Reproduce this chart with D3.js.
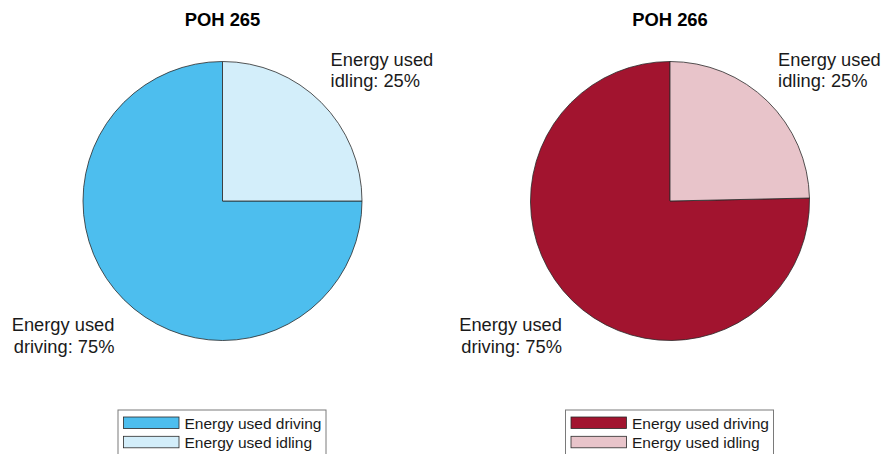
<!DOCTYPE html>
<html>
<head>
<meta charset="utf-8">
<script src="https://cdn.jsdelivr.net/npm/d3@7"></script>
<style>
  html, body { margin: 0; padding: 0; background: #fff; }
  svg { display: block; font-family: "Liberation Sans", Arial, Helvetica, sans-serif; }
</style>
</head>
<body>
<svg id="chart" width="881" height="454"></svg>
<script>
// ---- data ----
const titles = ["POH 265", "POH 266"];
const categories = ["Energy used driving", "Energy used idling"];
const labelNames = ["Energy used\ndriving", "Energy used\nidling"];
const driving = [75.0, 75.34];
const idling = [25.0, 24.66];
const colorsLeft = ["#4DBEEE", "#D3EEFA"];
const colorsRight = ["#A2142F", "#E8C4CA"];

// ---- layout ----
const svg = d3.select("#chart");
const centersX = [222.5, 670];
const cy = 201;
const R = 139.5;
const palettes = [colorsLeft, colorsRight];

titles.forEach((t, i) => {
  const cx = centersX[i];
  const vals = [driving[i], idling[i]];
  const total = d3.sum(vals);
  const color = d3.scaleOrdinal().domain(categories).range(palettes[i]);

  // MATLAB-style pie: start at 12 o'clock and go counter-clockwise
  const angle = d3.scaleLinear().domain([0, total]).range([0, -2 * Math.PI]);
  let acc = 0;
  const slices = vals.map((v, k) => {
    const s = { cat: categories[k], value: v, name: labelNames[k],
                startAngle: angle(acc), endAngle: angle(acc + v) };
    acc += v;
    return s;
  });

  const arc = d3.arc().innerRadius(0).outerRadius(R);
  const g = svg.append("g").attr("transform", `translate(${cx},${cy})`);

  g.selectAll("path").data(slices).join("path")
    .attr("d", arc)
    .attr("fill", d => color(d.cat))
    .attr("stroke", "#2a2a2a")
    .attr("stroke-width", 0.8)
    .attr("stroke-linejoin", "round");

  // title
  svg.append("text")
    .attr("x", cx).attr("y", 26)
    .attr("text-anchor", "middle")
    .attr("font-size", 18.4).attr("font-weight", "bold")
    .attr("fill", "#000")
    .text(t);

  // slice labels
  slices.forEach(d => {
    const mid = (d.startAngle + d.endAngle) / 2;
    const sx = Math.sin(mid), sy = -Math.cos(mid);
    const right = sx > 0;
    const top = sy < 0;
    const x = right ? 0.775 * R : -0.775 * R;
    const y0 = top ? -0.97 * R : 0.935 * R;
    const lines = d.name.split("\n");
    lines[lines.length - 1] += ": " + Math.round(d.value / total * 100) + "%";
    const txt = g.append("text")
      .attr("text-anchor", right ? "start" : "end")
      .attr("font-size", 18.3)
      .attr("fill", "#1a1a1a");
    lines.forEach((ln, j) => {
      txt.append("tspan").attr("x", x).attr("y", y0 + j * 21.5).text(ln);
    });
  });

  // legend
  const lx = cx - 104.5, ly = 410;
  const lg = svg.append("g").attr("transform", `translate(${lx},${ly})`);
  lg.append("rect")
    .attr("x", 0).attr("y", 0).attr("width", 208).attr("height", 50)
    .attr("fill", "#fff").attr("stroke", "#7a7a7a").attr("stroke-width", 1);
  categories.forEach((c, k) => {
    lg.append("rect")
      .attr("x", 5.5).attr("y", 7 + k * 19.3)
      .attr("width", 55.5).attr("height", 11.5)
      .attr("fill", color(c)).attr("stroke", "#2a2a2a").attr("stroke-width", 0.8);
    lg.append("text")
      .attr("x", 66.5).attr("y", 19 + k * 19.3)
      .attr("font-size", 15.5).attr("fill", "#1a1a1a")
      .text(c);
  });
});
</script>
</body>
</html>
